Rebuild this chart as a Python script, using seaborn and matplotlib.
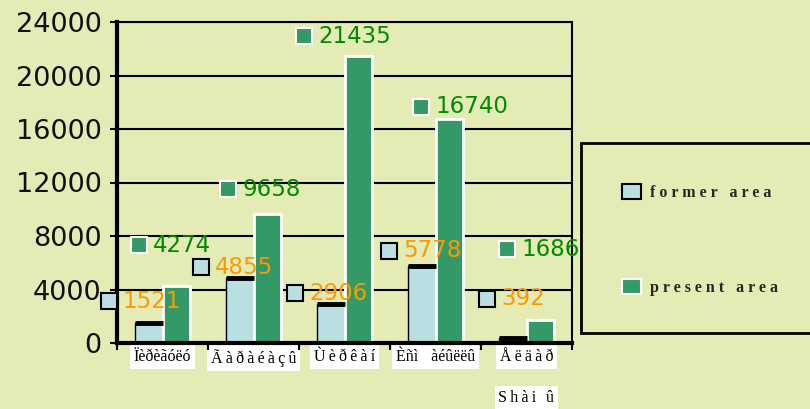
import matplotlib
matplotlib.use("Agg")
import matplotlib.pyplot as plt
import matplotlib.transforms as mtransforms
from matplotlib.patches import Rectangle, Patch
import seaborn as sns
import pandas as pd

# ---------------- data ----------------
T = "\u2009"  # thin space used as letter spacing in the original labels
regions = ["Ïèðèãóëó",
           T.join("Ãàðàéàçû"),
           T.join("Ùèðêàí"),
           "Èñì" + T * 4 + "àéûëëû",
           T.join("Åëäàð")]
extra_label = T.join("Shài") + T * 3 + "û"
former_area = [1521, 4855, 2906, 5778, 392]
present_area = [4274, 9658, 21435, 16740, 1686]
series = ["former area", "present area"]
legend_labels = ["f o r m e r   a r e a", "p r e s e n t   a r e a"]
yticks = [0, 4000, 8000, 12000, 16000, 20000, 24000]

# ---------------- layout (label anchors relative to bar centre / top) ----------------
former_dx = [-0.443, -0.427, -0.394, -0.361, -0.279]
former_dy = [1619, 827, 832, 1101, 2898]
present_dx = [-0.408, -0.425, -0.595, -0.309, -0.364]
present_dy = [3053, 1856, 1518, 905, 5342]

BG = "#E4EBB4"
BLUE = "#B9DFE3"
GREEN = "#339966"
ORANGE = "#FF9900"
DKGREEN = "#008A00"
SERIF = ["Liberation Serif", "DejaVu Serif"]

df = pd.DataFrame({
    "region": regions * 2,
    "area": former_area + present_area,
    "kind": [series[0]] * len(regions) + [series[1]] * len(regions),
})

sns.set_theme(style="white")
plt.rcParams["font.family"] = ["DejaVu Sans"]

fig = plt.figure(figsize=(8.1, 4.09), dpi=100, facecolor=BG)
ax = fig.add_axes([117 / 810, 66 / 409, 455 / 810, 321 / 409])
ax.set_facecolor(BG)

sns.barplot(data=df, x="region", y="area", hue="kind", palette=[BLUE, GREEN],
            saturation=1, width=0.6, ax=ax, legend=False, zorder=2)

# style bars
for p in ax.containers[0]:
    p.set_edgecolor("black")
    p.set_linewidth(1.0)
    x0, w, h = p.get_x(), p.get_width(), p.get_height()
    ax.plot([x0, x0 + w], [h, h], color="black", lw=3.5, solid_capstyle="butt", zorder=3)
for p in ax.containers[1]:
    p.set_edgecolor("white")
    p.set_linewidth(2.0)

ax.set_xlim(-0.5, len(regions) - 0.5)
ax.set_ylim(0, 24000)
ax.set_yticks(yticks)
ax.set_yticklabels([str(t) for t in yticks])
ax.set_xlabel("")
ax.set_ylabel("")

ax.yaxis.grid(True, color="black", lw=1.5)
ax.xaxis.grid(False)
ax.set_axisbelow(True)

for s in ["top", "right"]:
    ax.spines[s].set_color("black")
    ax.spines[s].set_linewidth(1.5)
for s in ["left", "bottom"]:
    ax.spines[s].set_color("black")
    ax.spines[s].set_linewidth(3)

ax.tick_params(axis="y", direction="out", length=5, width=1.5, color="black",
               labelsize=19.5, pad=6, labelcolor="#111111", left=True)
ax.set_xticks(range(len(regions)))
ax.set_xticks([i - 0.5 for i in range(len(regions) + 1)], minor=True)
ax.tick_params(axis="x", which="major", length=0, pad=4.5)
ax.tick_params(axis="x", which="minor", direction="out", length=5, width=1.5,
               color="black", bottom=True)
ax.set_xticklabels(regions, fontsize=11.5, family=SERIF, color="black")
for lbl in ax.get_xticklabels():
    lbl.set_bbox(dict(facecolor="white", edgecolor="none", pad=2.8))

# second line label box under the last category
trans = mtransforms.blended_transform_factory(ax.transData, fig.transFigure)
ax.text(len(regions) - 1, 11 / 409, extra_label, transform=trans, ha="center", va="center",
        fontsize=11.5, family=SERIF, color="black",
        bbox=dict(facecolor="white", edgecolor="none", pad=2.8), clip_on=False)

# value labels with square keys
for i, v in enumerate(former_area):
    x = i - 0.15 + former_dx[i]
    y = v + former_dy[i]
    ax.plot([x], [y], marker="s", ms=12, mfc=BLUE, mec="black", mew=1.5,
            clip_on=False, zorder=6)
    ax.annotate(str(v), (x, y), xytext=(14, 0), textcoords="offset pixels",
                ha="left", va="center", fontsize=16.5, color=ORANGE,
                annotation_clip=False, zorder=6)
for i, v in enumerate(present_area):
    x = i + 0.15 + present_dx[i]
    y = v + present_dy[i]
    ax.plot([x], [y], marker="s", ms=12, mfc=GREEN, mec="white", mew=1.5,
            clip_on=False, zorder=6)
    ax.annotate(str(v), (x, y), xytext=(14, 0), textcoords="offset pixels",
                ha="left", va="center", fontsize=16.5, color=DKGREEN,
                annotation_clip=False, zorder=6)

# legend box
rect = Rectangle((581 / 810, 76 / 409), 240 / 810, 190 / 409, transform=fig.transFigure,
                 facecolor=BG, edgecolor="black", lw=2, zorder=1)
fig.patches.append(rect)

handles = [Patch(facecolor=BLUE, edgecolor="black", lw=1.5),
           Patch(facecolor=GREEN, edgecolor="white", lw=1.5)]
fig.legend(handles, legend_labels, loc="upper left", bbox_to_anchor=(622 / 810, 1 - 184 / 409),
           frameon=False, borderpad=0, borderaxespad=0,
           prop={"family": "Liberation Serif", "weight": "bold", "size": 11.5},
           handlelength=1.19, handleheight=1.06, handletextpad=0.56, labelspacing=4.9)

fig.savefig("out.png", dpi=100, facecolor=BG)
